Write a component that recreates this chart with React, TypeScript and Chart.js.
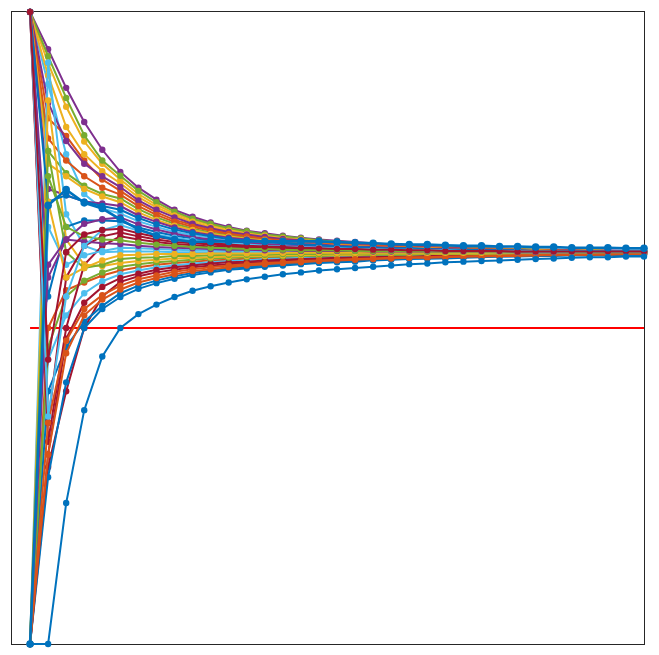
import React, { useEffect, useRef } from "react";
import { Chart, registerables } from "chart.js";

Chart.register(...registerables);

const STEPS = [1, 2, 3, 4, 5, 6, 7, 8, 9, 10, 11, 12, 13, 14, 15, 16, 17, 18, 19, 20, 21, 22, 23, 24, 25, 26, 27, 28, 29, 30, 31, 32, 33, 34, 35];
const REF_LEVEL = 0.5;
const COLORS = ["#0072BD", "#D95319", "#EDB120", "#7E2F8E", "#77AC30", "#4DBEEE", "#A2142F"];

const s00 = [0, 0, 0.223, 0.37, 0.455, 0.5, 0.522, 0.537, 0.549, 0.559, 0.566, 0.572, 0.577, 0.581, 0.585, 0.588, 0.591, 0.593, 0.595, 0.597, 0.599, 0.601, 0.602, 0.604, 0.605, 0.606, 0.607, 0.608, 0.609, 0.61, 0.611, 0.612, 0.612, 0.613, 0.613];
const s01 = [0, 0.5, 0.56, 0.572, 0.583, 0.591, 0.596, 0.6, 0.603, 0.605, 0.607, 0.608, 0.61, 0.611, 0.611, 0.612, 0.613, 0.614, 0.614, 0.615, 0.615, 0.615, 0.616, 0.616, 0.616, 0.617, 0.617, 0.617, 0.617, 0.618, 0.618, 0.618, 0.618, 0.618, 0.618];
const s02 = [1, 0.919, 0.85, 0.795, 0.76, 0.735, 0.712, 0.695, 0.681, 0.671, 0.663, 0.656, 0.651, 0.647, 0.644, 0.641, 0.638, 0.636, 0.634, 0.632, 0.631, 0.63, 0.628, 0.627, 0.626, 0.626, 0.625, 0.624, 0.624, 0.623, 0.623, 0.623, 0.622, 0.622, 0.622];
const s03 = [1, 0.941, 0.88, 0.826, 0.782, 0.747, 0.722, 0.703, 0.687, 0.676, 0.667, 0.66, 0.654, 0.65, 0.646, 0.643, 0.64, 0.638, 0.636, 0.634, 0.632, 0.631, 0.629, 0.628, 0.627, 0.626, 0.626, 0.625, 0.624, 0.624, 0.623, 0.623, 0.623, 0.622, 0.622];
const s04 = [1, 0.93, 0.864, 0.805, 0.765, 0.741, 0.717, 0.699, 0.684, 0.673, 0.665, 0.658, 0.653, 0.648, 0.645, 0.642, 0.639, 0.637, 0.635, 0.633, 0.631, 0.63, 0.629, 0.628, 0.627, 0.626, 0.625, 0.625, 0.624, 0.624, 0.623, 0.623, 0.622, 0.622, 0.622];
const s05 = [1, 0.886, 0.775, 0.712, 0.689, 0.681, 0.669, 0.66, 0.652, 0.647, 0.643, 0.639, 0.637, 0.634, 0.633, 0.631, 0.63, 0.629, 0.627, 0.627, 0.626, 0.625, 0.625, 0.624, 0.623, 0.623, 0.623, 0.622, 0.622, 0.622, 0.622, 0.621, 0.621, 0.621, 0.621];
const s06 = [0, 0.28, 0.4, 0.5, 0.55, 0.573, 0.582, 0.588, 0.592, 0.596, 0.599, 0.601, 0.603, 0.605, 0.606, 0.607, 0.609, 0.609, 0.61, 0.611, 0.612, 0.613, 0.613, 0.614, 0.614, 0.615, 0.615, 0.615, 0.616, 0.616, 0.616, 0.617, 0.617, 0.617, 0.617];
const s07 = [0, 0.264, 0.414, 0.5, 0.53, 0.549, 0.562, 0.571, 0.578, 0.584, 0.588, 0.592, 0.594, 0.597, 0.599, 0.601, 0.603, 0.604, 0.605, 0.607, 0.608, 0.609, 0.61, 0.61, 0.611, 0.612, 0.613, 0.613, 0.614, 0.614, 0.615, 0.615, 0.615, 0.616, 0.616];
const s08 = [1, 0.832, 0.804, 0.765, 0.735, 0.717, 0.698, 0.683, 0.671, 0.663, 0.656, 0.651, 0.646, 0.643, 0.64, 0.638, 0.635, 0.634, 0.632, 0.63, 0.629, 0.628, 0.627, 0.626, 0.625, 0.625, 0.624, 0.624, 0.623, 0.623, 0.623, 0.622, 0.622, 0.622, 0.622];
const s09 = [1, 0.9, 0.818, 0.775, 0.748, 0.729, 0.707, 0.691, 0.678, 0.668, 0.66, 0.654, 0.649, 0.646, 0.642, 0.64, 0.637, 0.635, 0.633, 0.632, 0.63, 0.629, 0.628, 0.627, 0.626, 0.625, 0.625, 0.624, 0.624, 0.623, 0.623, 0.623, 0.622, 0.622, 0.622];
const s10 = [1, 0.856, 0.796, 0.76, 0.74, 0.723, 0.702, 0.687, 0.675, 0.665, 0.658, 0.652, 0.648, 0.644, 0.641, 0.639, 0.636, 0.634, 0.633, 0.631, 0.63, 0.629, 0.628, 0.627, 0.626, 0.625, 0.624, 0.624, 0.623, 0.623, 0.623, 0.622, 0.622, 0.622, 0.622];
const s11 = [1, 0.78, 0.745, 0.725, 0.712, 0.705, 0.688, 0.675, 0.665, 0.657, 0.651, 0.647, 0.643, 0.64, 0.637, 0.635, 0.633, 0.632, 0.63, 0.629, 0.628, 0.627, 0.626, 0.625, 0.625, 0.624, 0.624, 0.623, 0.623, 0.622, 0.622, 0.622, 0.622, 0.621, 0.621];
const s12 = [0, 0.45, 0.52, 0.555, 0.574, 0.585, 0.591, 0.596, 0.599, 0.602, 0.604, 0.606, 0.607, 0.609, 0.61, 0.611, 0.611, 0.612, 0.613, 0.613, 0.614, 0.614, 0.615, 0.615, 0.616, 0.616, 0.616, 0.617, 0.617, 0.617, 0.617, 0.618, 0.618, 0.618, 0.618];
const s13 = [0, 0.3, 0.483, 0.54, 0.565, 0.579, 0.586, 0.592, 0.596, 0.599, 0.602, 0.604, 0.605, 0.607, 0.608, 0.609, 0.61, 0.611, 0.612, 0.612, 0.613, 0.613, 0.614, 0.614, 0.615, 0.615, 0.616, 0.616, 0.616, 0.617, 0.617, 0.617, 0.617, 0.618, 0.618];
const s14 = [0, 0.4, 0.47, 0.51, 0.535, 0.555, 0.567, 0.575, 0.582, 0.587, 0.591, 0.594, 0.597, 0.599, 0.601, 0.602, 0.604, 0.605, 0.607, 0.608, 0.609, 0.61, 0.61, 0.611, 0.612, 0.613, 0.613, 0.614, 0.614, 0.615, 0.615, 0.615, 0.616, 0.616, 0.616];
const s15 = [1, 0.8, 0.765, 0.74, 0.722, 0.711, 0.693, 0.679, 0.668, 0.66, 0.654, 0.649, 0.645, 0.641, 0.639, 0.636, 0.634, 0.633, 0.631, 0.63, 0.629, 0.628, 0.627, 0.626, 0.625, 0.625, 0.624, 0.624, 0.623, 0.623, 0.622, 0.622, 0.622, 0.622, 0.621];
const s16 = [1, 0.76, 0.74, 0.72, 0.708, 0.699, 0.683, 0.671, 0.662, 0.655, 0.649, 0.645, 0.641, 0.639, 0.636, 0.634, 0.632, 0.631, 0.63, 0.628, 0.627, 0.627, 0.626, 0.625, 0.624, 0.624, 0.623, 0.623, 0.623, 0.622, 0.622, 0.622, 0.622, 0.621, 0.621];
const s17 = [1, 0.72, 0.71, 0.7, 0.697, 0.693, 0.678, 0.668, 0.659, 0.652, 0.647, 0.643, 0.64, 0.637, 0.635, 0.633, 0.632, 0.63, 0.629, 0.628, 0.627, 0.626, 0.625, 0.625, 0.624, 0.624, 0.623, 0.623, 0.622, 0.622, 0.622, 0.622, 0.622, 0.621, 0.621];
const s18 = [0, 0.47, 0.55, 0.575, 0.588, 0.597, 0.601, 0.604, 0.606, 0.608, 0.61, 0.611, 0.612, 0.613, 0.613, 0.614, 0.614, 0.615, 0.615, 0.616, 0.616, 0.616, 0.617, 0.617, 0.617, 0.617, 0.618, 0.618, 0.618, 0.618, 0.618, 0.618, 0.619, 0.619, 0.619];
const s19 = [0, 0.92, 0.68, 0.63, 0.62, 0.621, 0.621, 0.621, 0.62, 0.62, 0.62, 0.62, 0.62, 0.62, 0.62, 0.62, 0.62, 0.62, 0.62, 0.62, 0.62, 0.62, 0.62, 0.62, 0.62, 0.62, 0.62, 0.62, 0.62, 0.62, 0.62, 0.62, 0.62, 0.62, 0.62];
const s20 = [1, 0.32, 0.5, 0.6, 0.63, 0.645, 0.64, 0.636, 0.633, 0.631, 0.629, 0.628, 0.627, 0.626, 0.625, 0.625, 0.624, 0.624, 0.623, 0.623, 0.622, 0.622, 0.622, 0.622, 0.621, 0.621, 0.621, 0.621, 0.621, 0.621, 0.621, 0.621, 0.621, 0.62, 0.62];
const s21 = [1, 0.55, 0.66, 0.67, 0.67, 0.669, 0.659, 0.652, 0.646, 0.642, 0.638, 0.635, 0.633, 0.632, 0.63, 0.629, 0.628, 0.627, 0.626, 0.625, 0.625, 0.624, 0.624, 0.623, 0.623, 0.622, 0.622, 0.622, 0.622, 0.621, 0.621, 0.621, 0.621, 0.621, 0.621];
const s22 = [0, 0.3, 0.46, 0.52, 0.545, 0.561, 0.572, 0.579, 0.585, 0.59, 0.593, 0.596, 0.599, 0.601, 0.603, 0.604, 0.606, 0.607, 0.608, 0.609, 0.61, 0.611, 0.611, 0.612, 0.613, 0.613, 0.614, 0.614, 0.615, 0.615, 0.616, 0.616, 0.616, 0.617, 0.617];
const s23 = [0, 0.86, 0.64, 0.6, 0.598, 0.603, 0.606, 0.608, 0.61, 0.611, 0.612, 0.613, 0.614, 0.614, 0.615, 0.615, 0.616, 0.616, 0.616, 0.617, 0.617, 0.617, 0.617, 0.618, 0.618, 0.618, 0.618, 0.618, 0.618, 0.619, 0.619, 0.619, 0.619, 0.619, 0.619];
const s24 = [1, 0.58, 0.64, 0.665, 0.672, 0.675, 0.664, 0.656, 0.649, 0.644, 0.64, 0.637, 0.635, 0.633, 0.631, 0.63, 0.629, 0.628, 0.627, 0.626, 0.625, 0.625, 0.624, 0.624, 0.623, 0.623, 0.622, 0.622, 0.622, 0.622, 0.621, 0.621, 0.621, 0.621, 0.621];
const s25 = [0, 0.78, 0.62, 0.595, 0.6, 0.609, 0.611, 0.612, 0.614, 0.614, 0.615, 0.616, 0.616, 0.616, 0.617, 0.617, 0.617, 0.618, 0.618, 0.618, 0.618, 0.618, 0.618, 0.619, 0.619, 0.619, 0.619, 0.619, 0.619, 0.619, 0.619, 0.619, 0.619, 0.619, 0.619];
const s26 = [0, 0.66, 0.6, 0.615, 0.622, 0.627, 0.626, 0.625, 0.624, 0.623, 0.623, 0.622, 0.622, 0.622, 0.621, 0.621, 0.621, 0.621, 0.621, 0.621, 0.621, 0.621, 0.62, 0.62, 0.62, 0.62, 0.62, 0.62, 0.62, 0.62, 0.62, 0.62, 0.62, 0.62, 0.62];
const s27 = [1, 0.35, 0.58, 0.63, 0.645, 0.651, 0.645, 0.64, 0.636, 0.634, 0.632, 0.63, 0.628, 0.627, 0.626, 0.626, 0.625, 0.624, 0.624, 0.623, 0.623, 0.623, 0.622, 0.622, 0.622, 0.622, 0.621, 0.621, 0.621, 0.621, 0.621, 0.621, 0.621, 0.621, 0.62];
const s28 = [1, 0.7, 0.71, 0.7, 0.693, 0.687, 0.674, 0.664, 0.656, 0.65, 0.645, 0.641, 0.638, 0.636, 0.634, 0.632, 0.631, 0.629, 0.628, 0.627, 0.626, 0.626, 0.625, 0.624, 0.624, 0.623, 0.623, 0.623, 0.622, 0.622, 0.622, 0.622, 0.621, 0.621, 0.621];
const s29 = [0, 0.35, 0.48, 0.53, 0.552, 0.567, 0.577, 0.583, 0.589, 0.593, 0.596, 0.599, 0.601, 0.603, 0.604, 0.606, 0.607, 0.608, 0.609, 0.61, 0.611, 0.612, 0.612, 0.613, 0.613, 0.614, 0.614, 0.615, 0.615, 0.616, 0.616, 0.616, 0.617, 0.617, 0.617];
const s30 = [0, 0.7, 0.58, 0.595, 0.607, 0.615, 0.616, 0.617, 0.617, 0.617, 0.618, 0.618, 0.618, 0.618, 0.619, 0.619, 0.619, 0.619, 0.619, 0.619, 0.619, 0.619, 0.619, 0.619, 0.619, 0.619, 0.62, 0.62, 0.62, 0.62, 0.62, 0.62, 0.62, 0.62, 0.62];
const s31 = [0, 0.6, 0.64, 0.637, 0.634, 0.633, 0.63, 0.628, 0.627, 0.626, 0.625, 0.624, 0.624, 0.623, 0.623, 0.622, 0.622, 0.622, 0.622, 0.621, 0.621, 0.621, 0.621, 0.621, 0.621, 0.621, 0.621, 0.62, 0.62, 0.62, 0.62, 0.62, 0.62, 0.62, 0.62];
const s32 = [0, 0.74, 0.66, 0.645, 0.64, 0.639, 0.635, 0.632, 0.63, 0.628, 0.627, 0.626, 0.625, 0.625, 0.624, 0.623, 0.623, 0.623, 0.622, 0.622, 0.622, 0.622, 0.621, 0.621, 0.621, 0.621, 0.621, 0.621, 0.621, 0.621, 0.62, 0.62, 0.62, 0.62, 0.62];
const s33 = [1, 0.36, 0.55, 0.63, 0.655, 0.663, 0.654, 0.648, 0.643, 0.639, 0.636, 0.634, 0.632, 0.63, 0.629, 0.628, 0.627, 0.626, 0.625, 0.625, 0.624, 0.624, 0.623, 0.623, 0.622, 0.622, 0.622, 0.622, 0.621, 0.621, 0.621, 0.621, 0.621, 0.621, 0.621];
const s34 = [1, 0.45, 0.62, 0.648, 0.655, 0.657, 0.65, 0.644, 0.64, 0.636, 0.634, 0.632, 0.63, 0.629, 0.628, 0.627, 0.626, 0.625, 0.625, 0.624, 0.624, 0.623, 0.623, 0.622, 0.622, 0.622, 0.622, 0.621, 0.621, 0.621, 0.621, 0.621, 0.621, 0.621, 0.621];
const meanTrace = [0, 0.694, 0.719, 0.698, 0.689, 0.672, 0.656, 0.646, 0.64, 0.636, 0.637, 0.637, 0.637, 0.637, 0.637, 0.637, 0.637, 0.636, 0.635, 0.634, 0.633, 0.632, 0.632, 0.631, 0.63, 0.63, 0.629, 0.629, 0.628, 0.628, 0.627, 0.627, 0.627, 0.626, 0.626];

const SERIES = [s00, s01, s02, s03, s04, s05, s06, s07, s08, s09, s10, s11, s12, s13, s14, s15, s16, s17, s18, s19, s20, s21, s22, s23, s24, s25, s26, s27, s28, s29, s30, s31, s32, s33, s34];

const framePlugin = {
  id: "frameBox",
  beforeDatasetsDraw(chart: any) {
    const { ctx, chartArea } = chart;
    ctx.save();
    ctx.strokeStyle = "#262626";
    ctx.lineWidth = 1;
    ctx.strokeRect(
      Math.round(chartArea.left) - 0.5,
      Math.round(chartArea.top) - 0.5,
      Math.round(chartArea.right - chartArea.left) + 1,
      Math.round(chartArea.bottom - chartArea.top) + 1
    );
    ctx.restore();
  },
};

export default function App() {
  const canvasRef = useRef<HTMLCanvasElement | null>(null);

  useEffect(() => {
    const canvas = canvasRef.current;
    if (!canvas) return;
    const datasets: any[] = [];
    datasets.push({
      data: [
        { x: STEPS[0], y: REF_LEVEL },
        { x: STEPS[STEPS.length - 1], y: REF_LEVEL },
      ],
      borderColor: "#FF0000",
      borderWidth: 2,
      pointRadius: 0,
      tension: 0,
      clip: false,
      order: 1000,
    });
    SERIES.forEach((s, i) => {
      const c = COLORS[i % COLORS.length];
      datasets.push({
        data: s.map((v, k) => ({ x: STEPS[k], y: v })),
        borderColor: c,
        backgroundColor: c,
        pointBackgroundColor: c,
        pointBorderColor: c,
        pointBorderWidth: 0,
        pointRadius: 3.2,
        borderWidth: 2,
        tension: 0,
        clip: false,
        order: i === 0 ? -998 : -i,
      });
    });
    datasets.push({
      data: meanTrace.map((v, k) => ({ x: STEPS[k], y: v })),
      borderColor: COLORS[0],
      backgroundColor: COLORS[0],
      pointBackgroundColor: COLORS[0],
      pointBorderColor: COLORS[0],
      pointBorderWidth: 0,
      pointRadius: 3.8,
      borderWidth: 2.6,
      tension: 0,
      clip: false,
      order: -999,
    });

    const chart = new Chart(canvas, {
      type: "line",
      data: { datasets },
      options: {
        animation: false,
        responsive: false,
        devicePixelRatio: 1,
        layout: { padding: { left: 4, top: 3, right: 7, bottom: 7 } },
        plugins: { legend: { display: false }, tooltip: { enabled: false } },
        scales: {
          x: { type: "linear", min: 0, max: 35, display: false },
          y: { type: "linear", min: 0, max: 1, display: false },
        },
      },
      plugins: [framePlugin],
    });
    return () => chart.destroy();
  }, []);

  return <canvas ref={canvasRef} width={643} height={643} style={{ display: "block" }} />;
}
